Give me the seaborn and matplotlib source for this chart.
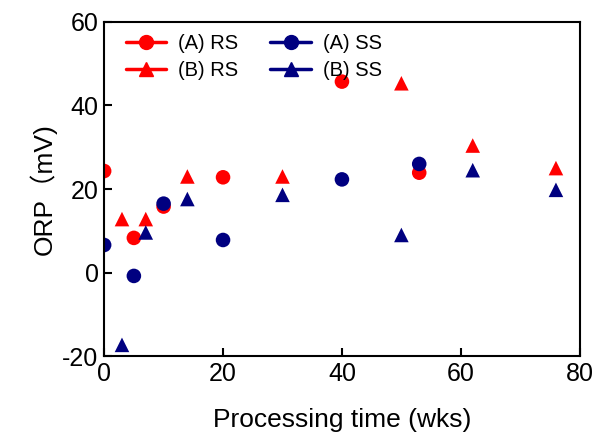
import pandas as pd
import matplotlib
matplotlib.use("Agg")
import matplotlib.pyplot as plt
from matplotlib.lines import Line2D
import seaborn as sns

# values
t_a = [0, 5, 10, 20, 40, 53]
a_rs = [24.3, 8.3, 15.8, 22.8, 45.7, 23.9]
a_ss = [6.6, -0.8, 16.5, 7.8, 22.3, 26.0]
t_b = [3, 7, 14, 30, 50, 62, 76]
b_rs = [12.8, 12.8, 23.0, 23.0, 45.3, 30.4, 25.0]
b_ss = [-17.3, 9.6, 17.6, 18.6, 9.0, 24.5, 19.8]

series = ["(A) RS", "(B) RS", "(A) SS", "(B) SS"]
colors = {"(A) RS": "#FF0000", "(B) RS": "#FF0000", "(A) SS": "#000080", "(B) SS": "#000080"}
marks = {"(A) RS": "o", "(B) RS": "^", "(A) SS": "o", "(B) SS": "^"}

df = pd.concat([
    pd.DataFrame({"time": t_a, "orp": a_rs, "series": "(A) RS"}),
    pd.DataFrame({"time": t_b, "orp": b_rs, "series": "(B) RS"}),
    pd.DataFrame({"time": t_a, "orp": a_ss, "series": "(A) SS"}),
    pd.DataFrame({"time": t_b, "orp": b_ss, "series": "(B) SS"}),
])

sns.set_style("ticks")
plt.rcParams["font.family"] = ["Liberation Sans", "Noto Sans CJK SC", "DejaVu Sans"]
plt.rcParams["axes.unicode_minus"] = False
plt.rcParams["text.color"] = "black"
plt.rcParams["axes.labelcolor"] = "black"
plt.rcParams["xtick.color"] = "black"
plt.rcParams["ytick.color"] = "black"

fig = plt.figure(figsize=(6.02, 4.37), dpi=100)
ax = fig.add_axes([0.173, 0.185, 0.79, 0.765])

sns.scatterplot(data=df, x="time", y="orp", hue="series", style="series",
                palette=colors, markers=marks, hue_order=series, style_order=series,
                s=110, linewidth=0, legend=False, ax=ax)

ax.set_xlim(0, 80)
ax.set_ylim(-20, 60)
ax.set_xticks([0, 20, 40, 60, 80])
ax.set_yticks([-20, 0, 20, 40, 60])
ax.tick_params(direction="in", length=6, width=1.5, labelsize=18, pad=4,
               top=False, right=False)
for sp in ax.spines.values():
    sp.set_linewidth(1.5)
    sp.set_color("black")

ax.set_xlabel("Processing time (wks)", fontsize=19, labelpad=16)
ax.set_ylabel("ORP（mV)", fontsize=19, labelpad=4)

handles = [Line2D([], [], color=colors[s], marker=marks[s], markersize=10,
                  linewidth=2.5, label=s) for s in series]
ax.legend(handles=handles, ncol=2, loc="upper left", frameon=False,
          fontsize=14.5, handlelength=2.0, columnspacing=1.6, labelspacing=0.4,
          borderaxespad=0.2, handletextpad=0.6, bbox_to_anchor=(0.02, 1.0))

fig.savefig("out.png", dpi=100)
